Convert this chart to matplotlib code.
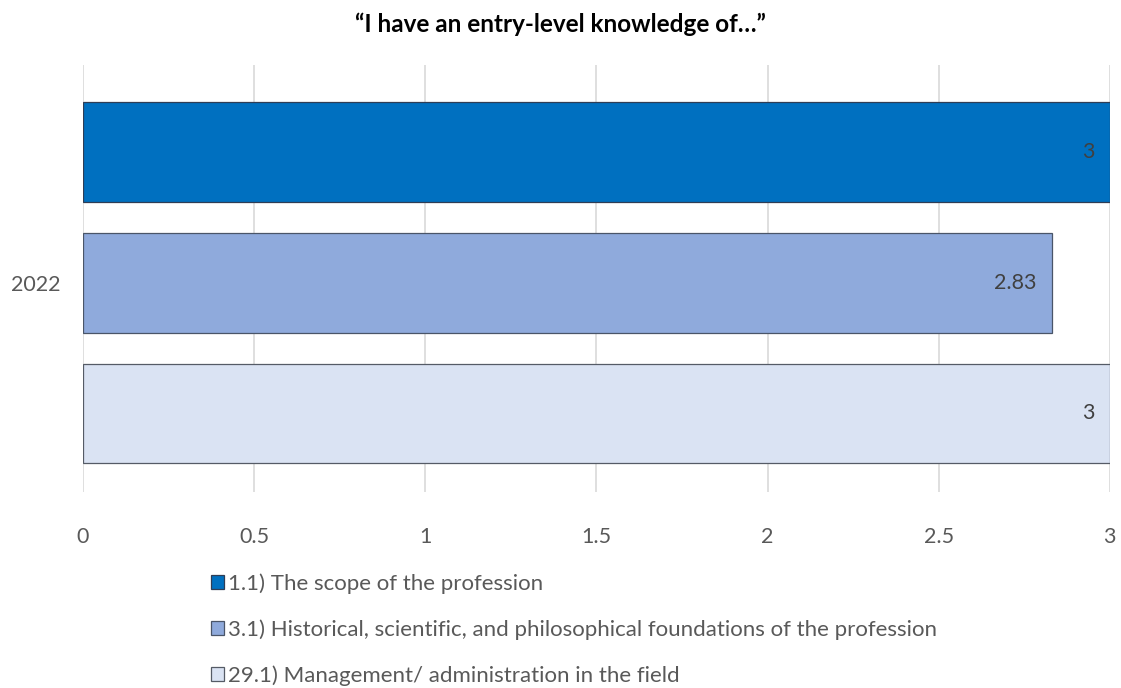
import matplotlib.pyplot as plt

plt.rcParams['font.family'] = ['Lato', 'DejaVu Sans']

title = '\u201cI have an entry-level knowledge of\u2026\u201d'
year = '2022'
series = [
    '1.1) The scope of the profession',
    '3.1) Historical, scientific, and philosophical foundations of the profession',
    '29.1) Management/ administration in the field',
]
values = [3, 2.83, 3]
labels = ['3', '2.83', '3']
colors = ['#0070C0', '#8FAADC', '#DAE3F3']
edges = ['#2F3D55', '#4A5568', '#555B66']

fig = plt.figure(figsize=(11.21, 6.88), dpi=100)
ax = fig.add_axes([0.074, 0.285, 0.916, 0.6206])

pos = [0, 1, 2]
bars = []
for p, v, c, e, s in zip(pos, values, colors, edges, series):
    b = ax.barh(p, v, height=0.763, color=c, edgecolor=e, linewidth=0.9,
                label=s, zorder=3)
    bars.append(b)

for p, v, t in zip(pos, values, labels):
    ax.text(v - 0.045, p, t, ha='right', va='center', fontsize=15.5,
            color='#404040', zorder=4)

ax.set_xlim(0, 3)
ax.set_ylim(2.6, -0.664)
ax.set_xticks([0, 0.5, 1, 1.5, 2, 2.5, 3])
ax.set_xticklabels(['0', '0.5', '1', '1.5', '2', '2.5', '3'])
ax.set_yticks([1])
ax.set_yticklabels([year])
ax.tick_params(axis='both', length=0, labelsize=15.5, labelcolor='#595959')
ax.tick_params(axis='x', pad=25)
ax.tick_params(axis='y', pad=16)
ax.xaxis.grid(True, color='#D9D9D9', linewidth=1.2, zorder=0)
for sp in ax.spines.values():
    sp.set_visible(False)

fig.text(0.5, 0.965, title, ha='center', va='center', fontsize=17.5,
         fontweight='bold', color='#000000')

fig.legend(handles=[b for b in bars], labels=series, loc='upper left',
           bbox_to_anchor=(0.178, 0.183), frameon=False, fontsize=16,
           labelcolor='#595959', handlelength=0.6, handleheight=0.6,
           handletextpad=0.2, labelspacing=1.15, borderpad=0)

fig.savefig('out.png', dpi=100)
